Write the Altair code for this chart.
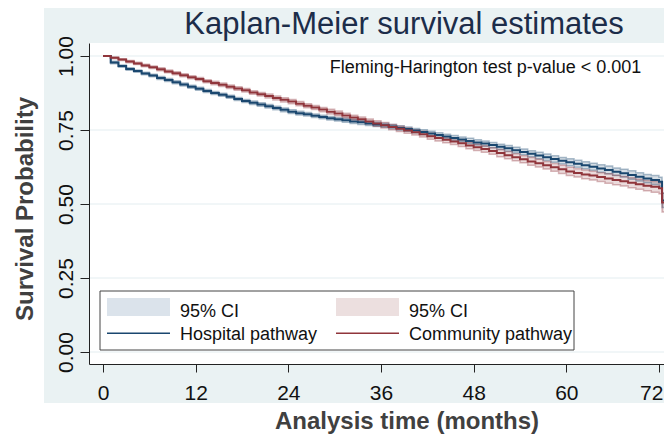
import altair as alt
import pandas as pd

# ---------------- data ----------------
months = list(range(0, 73)) + [72.4, 74.0]

hospital_surv = [
    1.000, 0.978, 0.966, 0.956, 0.949, 0.941, 0.934, 0.926, 0.919, 0.911, 0.904, 0.896, 0.889,
    0.882, 0.875, 0.869, 0.862, 0.855, 0.848, 0.842, 0.836, 0.830, 0.824, 0.818, 0.812,
    0.807, 0.803, 0.798, 0.794, 0.790, 0.786, 0.783, 0.779, 0.776, 0.772, 0.769, 0.766,
    0.762, 0.757, 0.753, 0.748, 0.743, 0.738, 0.733, 0.728, 0.723, 0.718, 0.713, 0.708,
    0.704, 0.699, 0.693, 0.688, 0.682, 0.676, 0.670, 0.664, 0.658, 0.652, 0.646, 0.641,
    0.636, 0.631, 0.626, 0.620, 0.615, 0.609, 0.604, 0.598, 0.592, 0.586, 0.581, 0.575,
    0.512, 0.512,
]
community_surv = [
    1.000, 0.994, 0.988, 0.981, 0.975, 0.968, 0.962, 0.955, 0.948, 0.942, 0.935, 0.928, 0.922,
    0.915, 0.909, 0.903, 0.896, 0.890, 0.884, 0.877, 0.871, 0.865, 0.858, 0.852, 0.846,
    0.839, 0.832, 0.826, 0.819, 0.812, 0.806, 0.799, 0.792, 0.786, 0.779, 0.772, 0.766,
    0.760, 0.754, 0.748, 0.742, 0.736, 0.729, 0.723, 0.717, 0.711, 0.705, 0.698, 0.692,
    0.686, 0.679, 0.672, 0.665, 0.658, 0.651, 0.644, 0.638, 0.631, 0.624, 0.617, 0.610,
    0.605, 0.600, 0.596, 0.591, 0.586, 0.581, 0.577, 0.572, 0.567, 0.562, 0.558, 0.553,
    0.505, 0.505,
]
hospital_ci_half = [
    0.000, 0.004, 0.004, 0.004, 0.004, 0.004, 0.004, 0.005, 0.005, 0.005, 0.005, 0.005, 0.005,
    0.005, 0.005, 0.005, 0.005, 0.005, 0.005, 0.006, 0.006, 0.006, 0.006, 0.006, 0.006,
    0.006, 0.006, 0.006, 0.006, 0.006, 0.006, 0.007, 0.007, 0.007, 0.007, 0.007, 0.007,
    0.007, 0.007, 0.007, 0.007, 0.008, 0.008, 0.008, 0.008, 0.008, 0.008, 0.009, 0.009,
    0.009, 0.009, 0.009, 0.010, 0.010, 0.010, 0.010, 0.011, 0.011, 0.011, 0.011, 0.012,
    0.012, 0.012, 0.012, 0.013, 0.013, 0.013, 0.013, 0.014, 0.014, 0.014, 0.015, 0.015,
    0.024, 0.024,
]
community_ci_half = [
    0.000, 0.003, 0.003, 0.004, 0.004, 0.004, 0.004, 0.005, 0.005, 0.005, 0.005, 0.005, 0.005,
    0.005, 0.006, 0.006, 0.006, 0.006, 0.006, 0.006, 0.006, 0.007, 0.007, 0.007, 0.007,
    0.007, 0.007, 0.007, 0.007, 0.008, 0.008, 0.008, 0.008, 0.008, 0.008, 0.009, 0.009,
    0.009, 0.009, 0.009, 0.009, 0.010, 0.010, 0.010, 0.010, 0.010, 0.011, 0.011, 0.011,
    0.011, 0.011, 0.012, 0.012, 0.012, 0.012, 0.013, 0.013, 0.013, 0.013, 0.014, 0.014,
    0.014, 0.015, 0.015, 0.015, 0.016, 0.016, 0.016, 0.017, 0.017, 0.017, 0.018, 0.018,
    0.032, 0.032,
]

y_ticks = [0.0, 0.25, 0.5, 0.75, 1.0]
x_ticks = [0, 12, 24, 36, 48, 60, 72]
group_names = ["Hospital pathway", "Community pathway"]
ci_label = "95% CI"
title_text = "Kaplan-Meier survival estimates"
note_text = "Fleming-Harington test p-value < 0.001"
x_title = "Analysis time (months)"
y_title = "Survival Probability"

# ---------------- styling ----------------
FONT = "Liberation Sans"
BLUE = "#1a476f"
RED = "#90353b"
BG = "#eaf2f3"
W, H = 575, 321


def frame(surv, half):
    return pd.DataFrame({
        "t": months,
        "s": surv,
        "lo": [a - b for a, b in zip(surv, half)],
        "hi": [a + b for a, b in zip(surv, half)],
    })


hosp = frame(hospital_surv, hospital_ci_half)
comm = frame(community_surv, community_ci_half)
one = pd.DataFrame({"k": [0]})
grid_df = pd.DataFrame({"v": y_ticks})

xs = alt.Scale(domain=[-1.813, 72.65], nice=False, zero=False)
ys = alt.Scale(domain=[-0.0405, 1.0439], nice=False, zero=False)

xaxis = alt.Axis(
    values=x_ticks, title=x_title, grid=False, zindex=1,
    domainColor="#222222", tickColor="#222222", tickSize=8, domainWidth=1, tickWidth=1,
    labelFont=FONT, labelFontSize=21, labelColor="#111111", labelBaseline="alphabetic",
    labelPadding=27, labelFlush=6, labelFlushOffset=4, labelOverlap=False,
    titleFont=FONT, titleFontSize=24, titleFontWeight="bold", titleColor="#404040",
    titleX=317.5, titleY=64.5, titleAlign="center", titleBaseline="alphabetic",
)
yaxis = alt.Axis(
    values=y_ticks, format=".2f", title=y_title, grid=False, zindex=1,
    domainColor="#222222", tickColor="#222222", tickSize=9, domainWidth=1, tickWidth=1,
    labelFont=FONT, labelFontSize=21, labelColor="#111111", labelAngle=270,
    labelAlign="center", labelBaseline="alphabetic", labelPadding=8,
    labelFlush=False, labelOverlap=False,
    titleFont=FONT, titleFontSize=24, titleFontWeight="bold", titleColor="#404040",
    titleAngle=270, titleX=-57, titleY=165.5, titleAlign="center", titleBaseline="alphabetic",
)

X = alt.X("t:Q", scale=xs, axis=xaxis)


def vrect(x1, x2, y1, y2, **kw):
    return alt.Chart(one).mark_rect(**kw).encode(
        x=alt.value(x1), x2=alt.value(x2), y=alt.value(y1), y2=alt.value(y2))


def vtext(x, y, txt, **kw):
    return alt.Chart(one).mark_text(text=txt, font=FONT, **kw).encode(
        x=alt.value(x), y=alt.value(y))


def vline(x1, x2, y, **kw):
    return alt.Chart(one).mark_rule(**kw).encode(
        x=alt.value(x1), x2=alt.value(x2), y=alt.value(y))


bg = vrect(-45, W, -35, 360, color=BG)
plot_bg = vrect(0, W, 0, H, color="white")

grid = alt.Chart(grid_df).mark_rule(color="#e3edf0", strokeWidth=1).encode(
    y=alt.Y("v:Q", scale=ys, axis=yaxis), x=alt.value(0), x2=alt.value(W))


def band(df, col):
    return alt.Chart(df).mark_area(interpolate="step-after", clip=True, color=col, opacity=0.18).encode(
        x=X, y=alt.Y("lo:Q", scale=ys, axis=yaxis), y2="hi:Q")


def edge(df, field, col):
    return alt.Chart(df).mark_line(interpolate="step-after", clip=True, color=col,
                                   strokeWidth=1.5, opacity=0.35).encode(
        x=X, y=alt.Y(field + ":Q", scale=ys, axis=yaxis))


def main_line(df, col):
    return alt.Chart(df).mark_line(interpolate="step-after", clip=True, color=col,
                                   strokeWidth=2).encode(
        x=X, y=alt.Y("s:Q", scale=ys, axis=yaxis))


# legend (drawn by hand, Stata style)
leg_box = vrect(11, 485, 248, 307, fill="white", stroke="#444444", strokeWidth=1)
leg_sw1 = vrect(18, 81, 255, 273, color="#dbe3eb")
leg_sw2 = vrect(247, 310, 255, 273, color="#ecdfdf")
leg_l1 = vline(18, 81, 290.3, color=BLUE, strokeWidth=1.6)
leg_l2 = vline(247, 310, 290.3, color=RED, strokeWidth=1.6)
leg_t1 = vtext(91, 273.5, ci_label, fontSize=18, color="#111111", align="left", baseline="alphabetic")
leg_t2 = vtext(320, 273.5, ci_label, fontSize=18, color="#111111", align="left", baseline="alphabetic")
leg_t3 = vtext(91, 296.6, group_names[0], fontSize=18, color="#111111", align="left", baseline="alphabetic")
leg_t4 = vtext(320, 296.6, group_names[1], fontSize=18, color="#111111", align="left", baseline="alphabetic")

note = vtext(396.5, 30.3, note_text, fontSize=18, color="#111111", align="center", baseline="alphabetic")
title = vtext(315, -9.5, title_text, fontSize=31, color="#1c2d4a", align="center", baseline="alphabetic")

chart = alt.layer(
    bg, plot_bg, grid,
    band(hosp, BLUE), band(comm, RED),
    edge(hosp, "lo", BLUE), edge(hosp, "hi", BLUE),
    edge(comm, "lo", RED), edge(comm, "hi", RED),
    main_line(hosp, BLUE), main_line(comm, RED),
    leg_box, leg_sw1, leg_sw2, leg_l1, leg_l2, leg_t1, leg_t2, leg_t3, leg_t4,
    note, title,
).properties(
    width=W, height=H,
    autosize=alt.AutoSizeParams(type="none"),
    padding={"left": 81, "top": 35, "right": 0, "bottom": 70},
    background="white",
).configure_view(strokeWidth=0)

chart.save("out.html", embed_options={"renderer": "svg", "actions": False})
